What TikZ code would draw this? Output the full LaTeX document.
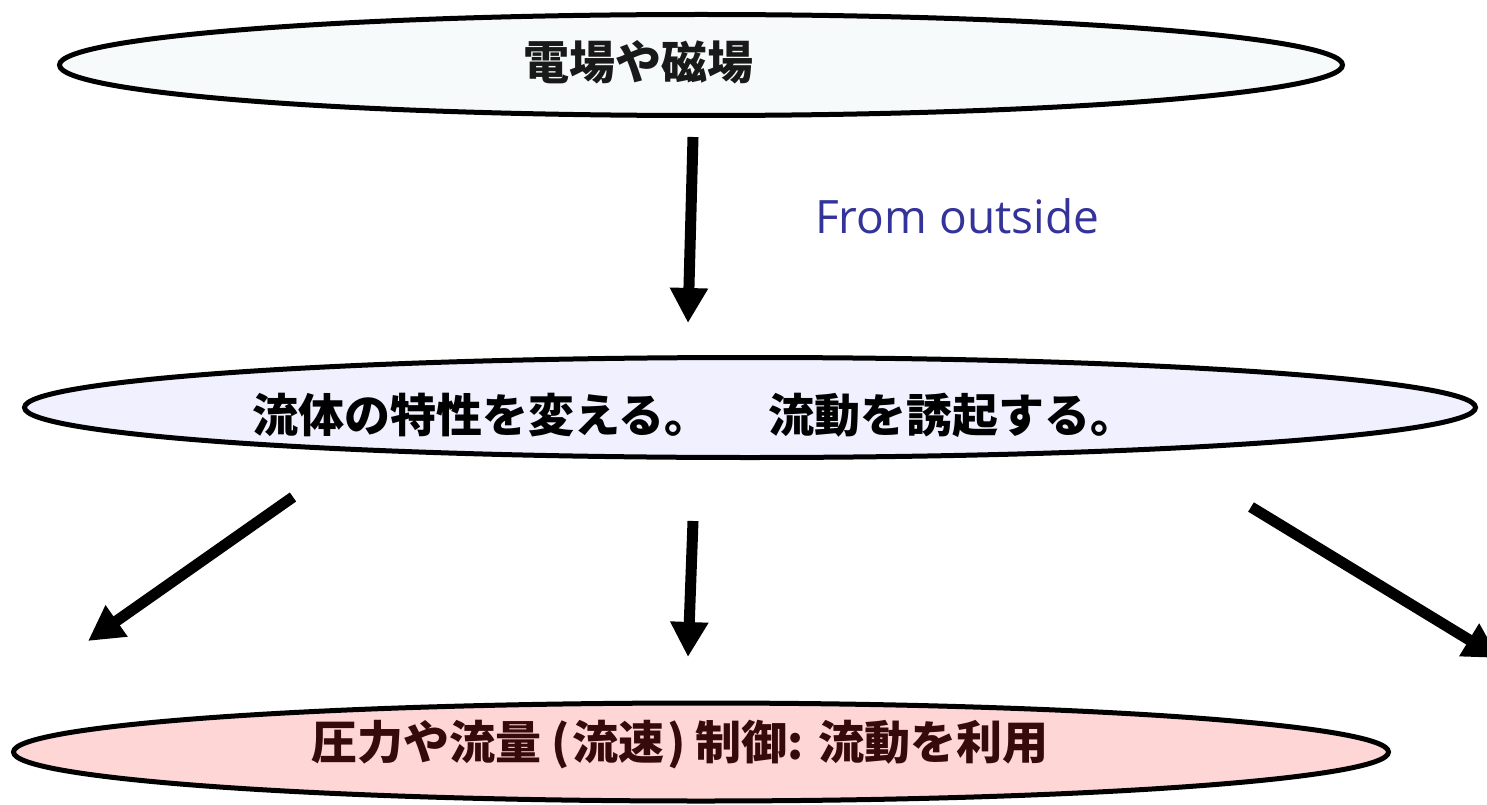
\documentclass[tikz,border=0pt]{standalone}
\usepackage{fontspec}
\newfontfamily\jp{Noto Sans CJK JP}
\newfontfamily\lat{Open Sans}
\usetikzlibrary{shapes.geometric,arrows.meta}
\definecolor{topfill}{RGB}{246,250,250}
\definecolor{midfill}{RGB}{240,240,255}
\definecolor{botfill}{RGB}{255,214,214}
\definecolor{bottxt}{RGB}{55,10,10}
\definecolor{fromblue}{RGB}{51,51,153}
\begin{document}
\begin{tikzpicture}[x=1pt,y=-1pt,
  oval/.style={ellipse,draw=black,line width=5pt,inner sep=0pt},
  lbl/.style={inner sep=0pt,font=\jp\bfseries\fontsize{46}{50}\selectfont},
  bigarrow/.style={line width=11pt,-{Triangle[length=35pt,width=36pt]}}]
\useasboundingbox (0,0) rectangle (1487,805);
% ellipses
\node[oval,fill=topfill,minimum width=1283pt,minimum height=101pt] (field) at (701,65) {};
\node[oval,fill=midfill,minimum width=1451pt,minimum height=100pt] (fluid) at (750,407.5) {};
\node[oval,fill=botfill,minimum width=1375pt,minimum height=98pt] (ctrl) at (701,752) {};
% texts
\node[lbl,text=black!90] (fieldtxt) at (638,62) {電場や磁場};
\node[lbl,text=black,anchor=west] (fluidtxt) at (252,415) {流体の特性を変える。\hspace{58pt}流動を誘起する。};
\node[lbl,text=bottxt,anchor=west] (ctrltxt) at (311,745) {圧力や流量\hspace{10pt}(\hspace{3pt}流速\hspace{3pt})\hspace{10pt}制御: 流動を利用};
\node[inner sep=0pt,anchor=base west,text=fromblue,font=\lat\fontsize{46}{50}\selectfont] (from) at (815,233) {From outside};
% arrow end points
\coordinate (a1s) at (693,137);
\coordinate (a1e) at (688,323);
\coordinate (a2s) at (293,497);
\coordinate (a2e) at (88,641);
\coordinate (a3s) at (693,521);
\coordinate (a3e) at (688,657);
\coordinate (a4s) at (1251,507);
\coordinate (a4e) at (1499,658);
\draw[bigarrow] (a1s) -- (a1e);
\draw[bigarrow] (a2s) -- (a2e);
\draw[bigarrow] (a3s) -- (a3e);
\draw[bigarrow] (a4s) -- (a4e);
\end{tikzpicture}
\end{document}
